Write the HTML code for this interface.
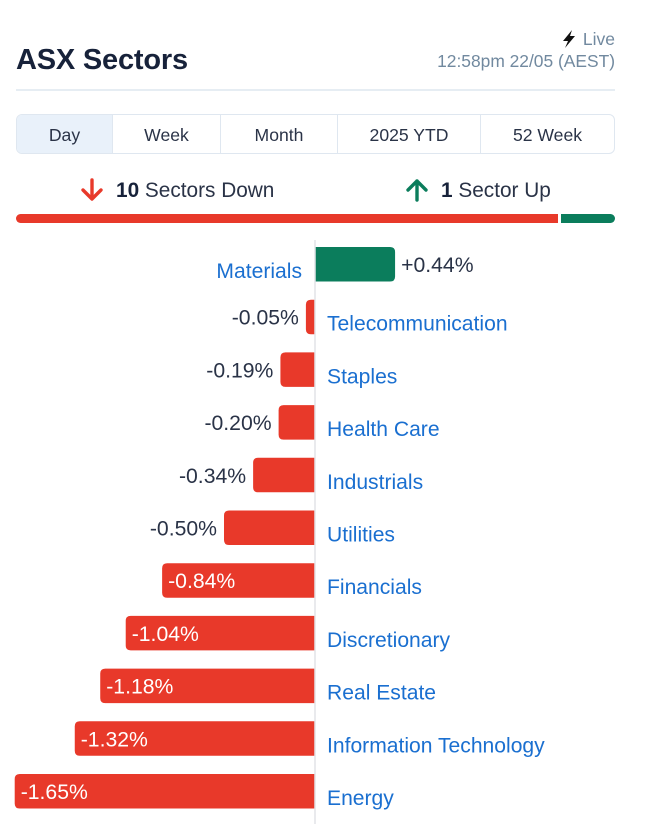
<!DOCTYPE html>
<html lang="en">
<head>
<meta charset="utf-8">
<title>ASX Sectors</title>
<style>
html,body{margin:0;padding:0;background:#fff;}
body{width:650px;height:824px;overflow:hidden;position:relative;font-family:"Liberation Sans",sans-serif;}
.abs{position:absolute;white-space:nowrap;}
#tabs{position:absolute;left:16px;top:114px;width:597px;height:38px;border:1px solid #dfe7f0;border-radius:6px;overflow:hidden;}
.tab{position:absolute;top:0;height:38px;line-height:40px;text-align:center;font-size:17.6px;color:#2a3347;border-left:1px solid #dfe7f0;box-sizing:border-box;}
svg{position:absolute;left:0;top:0;}
</style>
</head>
<body>
<div class="abs" style="left:16px;top:43px;font-size:29px;line-height:34px;font-weight:bold;color:#17223a;letter-spacing:-0.2px;">ASX Sectors</div>
<svg width="650" height="60" style="pointer-events:none">
  <polygon points="572,30 563,41 568,41 565,48 575,36 570,36" fill="#111"/>
</svg>
<div class="abs" style="right:35px;top:29px;font-size:17.5px;line-height:20px;color:#71899f;">Live</div>
<div class="abs" style="right:35px;top:51px;font-size:17.4px;line-height:20px;color:#71899f;">12:58pm 22/05 (AEST)</div>
<div class="abs" style="left:16px;top:89px;width:599px;height:2px;background:#e6edf3;"></div>

<div id="tabs">
  <div class="tab" style="left:0;width:95px;border-left:none;background:#e9f1fa;">Day</div>
  <div class="tab" style="left:95px;width:108px;">Week</div>
  <div class="tab" style="left:203px;width:117px;">Month</div>
  <div class="tab" style="left:320px;width:143px;">2025 YTD</div>
  <div class="tab" style="left:463px;width:134px;">52 Week</div>
</div>

<svg width="650" height="240" style="pointer-events:none">
  <g fill="none" stroke="#e8392a" stroke-width="3.4" stroke-linecap="round" stroke-linejoin="round">
    <path d="M92 180V198M83 190L92 199L101 190"/>
  </g>
  <g fill="none" stroke="#0b7d5c" stroke-width="3.4" stroke-linecap="round" stroke-linejoin="round">
    <path d="M417 200V181M408 190L417 181L426 190"/>
  </g>
</svg>
<div class="abs" style="left:116px;top:179px;font-size:20.8px;line-height:24px;color:#2a3347;"><b style="color:#17223a">10</b> Sectors Down</div>
<div class="abs" style="left:441px;top:179px;font-size:20.8px;line-height:24px;color:#2a3347;"><b style="color:#17223a">1</b> Sector Up</div>

<div class="abs" style="left:16px;top:214px;width:542px;height:9px;background:#e8392a;border-radius:5px 0 0 5px;"></div>
<div class="abs" style="left:561px;top:214px;width:54px;height:9px;background:#0b7d5c;border-radius:0 5px 5px 0;"></div>

<svg id="chart" width="650" height="824" xmlns="http://www.w3.org/2000/svg"></svg>

<script>
const categories = ["Materials","Telecommunication","Staples","Health Care","Industrials","Utilities","Financials","Discretionary","Real Estate","Information Technology","Energy"];
const changes = [0.44,-0.05,-0.19,-0.20,-0.34,-0.50,-0.84,-1.04,-1.18,-1.32,-1.65];

const svgNS = "http://www.w3.org/2000/svg";
const chart = document.getElementById("chart");
const zeroX = 315;
const unit = 182;
const firstTop = 247;
const step = 52.7;
const barH = 34.5;
const insideMin = 0.6;
function xScale(v){ return zeroX + v * unit; }
function yScale(i){ return firstTop + i * step; }
function fmt(v){ return (v > 0 ? "+" : "") + v.toFixed(2) + "%"; }
function slug(s){ return s.toLowerCase().replace(/[^a-z0-9]+/g, "-"); }
function make(tag, attrs, text){
  const el = document.createElementNS(svgNS, tag);
  for (const k in attrs) el.setAttribute(k, attrs[k]);
  if (text !== undefined) el.textContent = text;
  return el;
}
function barPath(v, y){
  const x0 = zeroX, x1 = xScale(v), r = Math.min(5, Math.abs(x1 - x0)), s = v >= 0 ? 1 : -1;
  return "M" + x0 + " " + y + "H" + (x1 - s * r) +
    "Q" + x1 + " " + y + " " + x1 + " " + (y + r) +
    "V" + (y + barH - r) +
    "Q" + x1 + " " + (y + barH) + " " + (x1 - s * r) + " " + (y + barH) +
    "H" + x0 + "Z";
}
categories.forEach(function(name, i){
  const v = changes[i], y = yScale(i), sl = slug(name);
  const bar = make("path", {d: barPath(v, y), fill: v >= 0 ? "#0b7d5c" : "#e8392a"});
  
  
  chart.appendChild(bar);

  const end = xScale(v);
  let vx, anchor, color;
  if (v >= 0) { vx = end + 6; anchor = "start"; color = "#2a3347"; }
  else if (Math.abs(v) >= insideMin) { vx = end + 6; anchor = "start"; color = "#ffffff"; }
  else { vx = end - 7; anchor = "end"; color = "#2a3347"; }
  const val = make("text", {x: vx, y: y + 25, "font-size": 21.2, "text-anchor": anchor, fill: color, "font-family": '"Liberation Sans",sans-serif'}, fmt(v));
  
  
  chart.appendChild(val);

  const lx = v >= 0 ? zeroX - 13 : zeroX + 12;
  const lab = make("text", {x: lx, y: y + 31, "font-size": 21.1, "text-anchor": v >= 0 ? "end" : "start", fill: "#1a6fd0", "font-family": '"Liberation Sans",sans-serif'}, name);
  
  
  chart.appendChild(lab);
});
const axis = make("line", {x1: zeroX, x2: zeroX, y1: 240, y2: 824, stroke: "#e2e4e7", "stroke-width": 1.5});


chart.appendChild(axis);
</script>
</body>
</html>
